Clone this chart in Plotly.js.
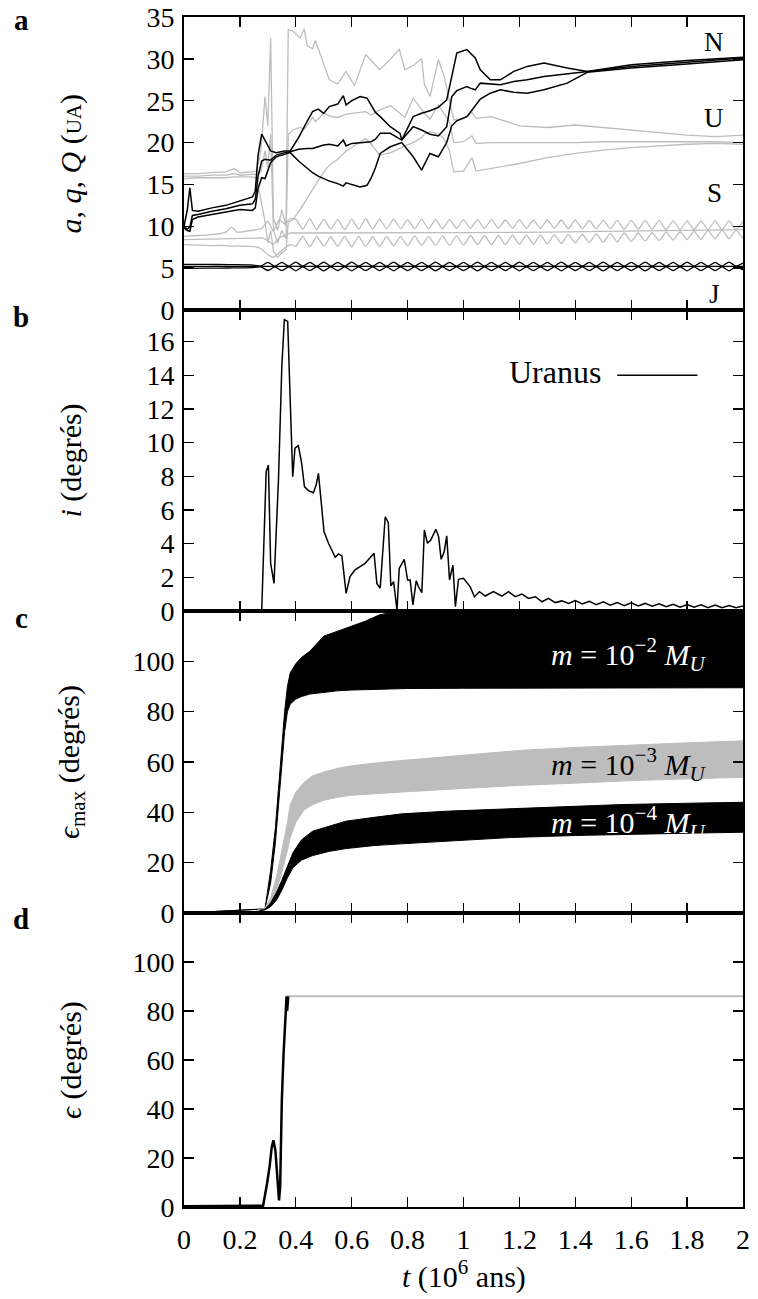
<!DOCTYPE html>
<html>
<head>
<meta charset="utf-8">
<script src="https://cdn.plot.ly/plotly-3.0.1.min.js"></script>
<style>html,body{margin:0;padding:0;background:#fff;}</style>
</head>
<body>
<div id="chart" style="width:758px;height:1299px;"></div>
<script>
// ---------------- Panel a : a, q, Q (UA) ----------------
// Neptune (black)
const tN = [0,0.012,0.021,0.03,0.05,0.1,0.15,0.2,0.245,0.255,0.265,0.278,0.29,0.31,0.33,0.36,0.38,0.41,0.44,0.46,0.48,0.5,0.52,0.55,0.57,0.58,0.6,0.63,0.655,0.67,0.685,0.702,0.738,0.773,0.779,0.82,0.85,0.88,0.91,0.94,0.958,0.976,1.012,1.024,1.042,1.06,1.096,1.132,1.18,1.228,1.288,1.371,1.443,1.6,1.8,2.0];
const NQ = [10.0,12.0,14.6,11.9,11.8,12.2,12.5,13.0,13.5,14.2,18.5,21.0,20.2,19.0,18.8,19.0,19.0,20.6,22.5,23.7,24.0,23.5,24.3,24.6,25.6,24.5,25.0,25.5,25.3,24.5,23.6,23.1,21.9,21.1,20.3,23.1,23.5,23.8,24.2,25.1,27.9,30.7,31.1,30.7,30.1,28.7,27.5,27.5,28.5,29.1,29.5,28.9,28.5,29.3,29.8,30.2];
const Na = [9.9,9.7,9.9,11.3,11.4,11.8,12.1,12.5,12.7,13.2,16.0,17.8,18.0,17.9,18.5,18.8,18.9,19.2,19.3,19.3,19.5,19.7,19.8,19.6,20.3,19.6,19.9,20.0,20.1,20.1,20.4,21.1,21.1,20.5,20.3,21.9,21.5,21.0,20.8,21.9,25.5,26.2,26.7,26.5,26.3,27.1,27.0,26.9,27.3,27.5,27.9,28.2,28.5,29.1,29.6,30.1];
const Nq = [9.8,9.5,9.4,10.8,11.1,11.4,11.7,12.0,11.9,12.2,14.5,15.8,15.7,17.6,18.3,18.6,18.8,17.8,16.9,16.4,16.0,15.7,15.4,15.1,14.8,15.2,15.0,14.7,14.9,15.8,17.0,18.7,19.5,19.9,20.0,18.3,16.7,18.7,18.3,20.0,22.0,22.6,23.1,23.6,24.4,25.2,25.9,26.3,26.0,25.9,26.3,27.1,28.4,28.9,29.4,29.9];

// Uranus (grey)
const tU = [0,0.05,0.1,0.15,0.18,0.2,0.24,0.26,0.275,0.29,0.3,0.31,0.32,0.335,0.35,0.365,0.373,0.39,0.415,0.43,0.44,0.46,0.47,0.5,0.52,0.55,0.58,0.61,0.65,0.67,0.7,0.74,0.77,0.79,0.82,0.85,0.86,0.88,0.91,0.93,0.95,0.965,1.0,1.03,1.045,1.1,1.2,1.3,1.4,1.5,1.6,1.7,1.8,1.9,2.0];
const UQ = [16.3,16.3,16.4,16.5,16.9,16.4,16.5,16.6,19.0,25.5,22.0,32.5,11.0,9.5,12.0,10.0,33.5,33.3,32.5,33.6,31.6,31.2,32.2,29.5,27.5,27.0,28.5,26.8,30.5,29.8,28.7,30.0,31.2,28.7,29.2,30.0,27.0,25.5,29.9,28.0,25.0,22.7,22.9,23.6,22.9,23.1,22.0,21.8,22.1,21.8,21.5,21.2,20.9,20.7,20.9];
const Ua = [16.0,16.0,16.1,16.1,16.3,16.1,16.2,16.2,16.5,19.0,17.0,21.0,9.5,8.0,9.5,8.5,21.0,21.5,21.8,21.6,22.0,23.0,22.5,23.5,23.2,23.0,23.4,23.5,23.7,23.3,23.9,24.4,23.5,23.0,25.3,24.0,23.5,22.8,24.5,23.5,22.5,20.0,20.1,20.8,19.9,20.0,20.0,20.0,20.0,20.1,20.1,20.1,20.1,20.1,20.0];
const Uq = [15.7,15.8,15.8,15.8,15.9,15.9,15.9,15.8,13.0,10.5,8.0,9.5,7.0,6.3,6.8,7.2,10.5,10.8,12.0,12.8,13.3,14.5,15.0,16.5,17.3,18.0,19.0,19.6,20.5,19.8,18.5,18.8,19.3,19.6,20.0,20.6,21.0,21.3,21.0,20.5,19.0,16.5,16.6,18.2,16.6,16.9,17.5,18.2,18.7,19.1,19.4,19.6,19.8,19.9,19.8];

// Saturn (grey)
const tSat = [0,0.05,0.1,0.15,0.17,0.19,0.22,0.26,0.28,0.3,0.32,0.34,0.36,0.38];
const SQ0 = [8.8,8.9,9.0,9.3,9.9,9.3,9.4,9.6,9.8,10.6,9.4,10.8,10.3,10.9];
const Sq0 = [7.8,7.75,7.7,7.7,7.6,7.65,7.6,7.55,7.2,6.6,6.3,6.8,7.4,7.8];
const tSa = [0,0.1,0.2,0.26,0.28,0.3,0.32,0.34,0.36,0.38,0.4,0.7,1.0,1.3,1.6,2.0];
const Sa  = [8.4,8.45,8.5,8.55,8.6,8.3,7.8,8.6,8.9,9.2,9.2,9.2,9.25,9.3,9.45,9.6];
const tOsc = [0.4,0.425,0.45,0.475,0.5,0.525,0.55,0.575,0.6,0.625,0.65,0.675,0.7,0.725,0.75,0.775,0.8,0.825,0.85,0.875,0.9,0.925,0.95,0.975,1.0,1.025,1.05,1.075,1.1,1.125,1.15,1.175,1.2,1.225,1.25,1.275,1.3,1.325,1.35,1.375,1.4,1.425,1.45,1.475,1.5,1.525,1.55,1.575,1.6,1.625,1.65,1.675,1.7,1.725,1.75,1.775,1.8,1.825,1.85,1.875,1.9,1.925,1.95,1.975,2.0];
const SQ1 = [10.85,9.65,10.9,9.6,10.85,9.65,10.8,9.6,10.85,9.65,10.9,9.65,10.85,9.7,10.85,9.7,10.8,9.7,10.85,9.7,10.8,9.7,10.8,9.75,10.8,9.75,10.8,9.75,10.8,9.75,10.75,9.75,10.8,9.75,10.75,9.75,10.75,9.75,10.75,9.7,10.75,9.7,10.7,9.7,10.7,9.7,10.7,9.65,10.7,9.65,10.7,9.65,10.7,9.6,10.65,9.6,10.65,9.6,10.65,9.6,10.65,9.6,10.65,9.6,10.6];
const Sq1 = [7.6,8.8,7.55,8.8,7.6,8.75,7.6,8.8,7.55,8.8,7.6,8.75,7.6,8.8,7.65,8.8,7.65,8.85,7.7,8.8,7.7,8.85,7.7,8.85,7.75,8.9,7.8,8.9,7.8,8.9,7.8,8.95,7.85,8.95,7.85,8.95,7.9,9.0,7.95,9.0,8.0,9.05,8.05,9.1,8.1,9.15,8.15,9.2,8.2,9.2,8.25,9.25,8.3,9.3,8.35,9.35,8.4,9.4,8.45,9.5,8.5,9.55,8.5,9.55,8.55];

// Jupiter (black)
const tJ0 = [0,0.08,0.16,0.24];
const JQ0 = [5.45,5.45,5.42,5.38];
const Jq0 = [4.98,5.0,5.02,5.06];
const tJ1 = [0.275,0.3,0.325,0.35,0.375,0.4,0.425,0.45,0.475,0.5,0.525,0.55,0.575,0.6,0.625,0.65,0.675,0.7,0.725,0.75,0.775,0.8,0.825,0.85,0.875,0.9,0.925,0.95,0.975,1.0,1.025,1.05,1.075,1.1,1.125,1.15,1.175,1.2,1.225,1.25,1.275,1.3,1.325,1.35,1.375,1.4,1.425,1.45,1.475,1.5,1.525,1.55,1.575,1.6,1.625,1.65,1.675,1.7,1.725,1.75,1.775,1.8,1.825,1.85,1.875,1.9,1.925,1.95,1.975,2.0];
const JQ1 = [5.25,5.68,5.25,5.7,5.25,5.72,5.24,5.7,5.25,5.72,5.25,5.7,5.24,5.72,5.25,5.7,5.25,5.7,5.25,5.72,5.24,5.7,5.25,5.7,5.25,5.72,5.25,5.7,5.24,5.7,5.25,5.72,5.25,5.7,5.25,5.7,5.24,5.72,5.25,5.7,5.25,5.7,5.25,5.72,5.24,5.7,5.25,5.7,5.25,5.72,5.25,5.7,5.24,5.7,5.25,5.72,5.25,5.7,5.25,5.7,5.24,5.72,5.25,5.7,5.25,5.7,5.25,5.72,5.24,5.6];
const Jq1 = [5.15,4.72,5.15,4.7,5.15,4.68,5.16,4.7,5.15,4.68,5.15,4.7,5.16,4.68,5.15,4.7,5.15,4.7,5.15,4.68,5.16,4.7,5.15,4.7,5.15,4.68,5.15,4.7,5.16,4.7,5.15,4.68,5.15,4.7,5.15,4.7,5.16,4.68,5.15,4.7,5.15,4.7,5.15,4.68,5.16,4.7,5.15,4.7,5.15,4.68,5.15,4.7,5.16,4.7,5.15,4.68,5.15,4.7,5.15,4.7,5.16,4.68,5.15,4.7,5.15,4.7,5.15,4.68,5.16,4.8];
const tJa = [0,0.5,1.0,1.5,2.0];
const Ja  = [5.22,5.2,5.2,5.2,5.2];

const planetLabels = ['N','U','S','J'];
const planetLabelY = [32.0,22.9,14.0,1.9];

// ---------------- Panel b : inclination of Uranus ----------------
const tI = [0,0.278,0.294,0.302,0.31,0.322,0.338,0.35,0.359,0.371,0.38,0.389,0.397,0.409,0.421,0.431,0.445,0.463,0.473,0.481,0.501,0.517,0.541,0.553,0.565,0.58,0.594,0.612,0.63,0.648,0.68,0.69,0.702,0.72,0.731,0.74,0.75,0.762,0.77,0.788,0.8,0.809,0.819,0.831,0.839,0.851,0.86,0.871,0.883,0.901,0.911,0.92,0.931,0.94,0.95,0.962,0.971,0.982,1.0,1.014,1.024,1.039,1.057,1.078,1.107,1.137,1.161,1.185,1.209,1.233,1.257,1.281,1.304,1.328,1.352,1.376,1.4,1.425,1.45,1.475,1.5,1.525,1.55,1.575,1.6,1.625,1.65,1.675,1.7,1.725,1.75,1.775,1.8,1.825,1.85,1.875,1.9,1.925,1.95,1.975,2.0];
const iU = [0,0,8.28,8.67,2.83,1.64,7.78,14.5,17.3,17.2,12.5,7.98,9.67,9.82,8.77,7.39,7.15,7.03,7.49,8.18,4.71,4.02,3.19,3.39,3.27,1.05,2.04,2.44,2.63,2.83,3.43,1.64,1.35,5.6,5.25,1.49,1.74,0.06,2.53,3.07,1.84,1.84,0.36,1.8,1.44,1.09,4.81,4.02,4.22,4.85,4.42,3.07,3.52,4.46,1.84,2.73,0.26,1.88,1.94,1.68,1.44,0.85,1.15,0.89,1.15,0.89,1.15,0.85,1.01,0.75,0.85,0.55,0.75,0.5,0.6,0.45,0.62,0.42,0.58,0.38,0.55,0.35,0.5,0.32,0.48,0.3,0.45,0.28,0.43,0.25,0.4,0.22,0.38,0.22,0.37,0.2,0.35,0.2,0.33,0.2,0.3];

// ---------------- Panel c : epsilon max bands ----------------
const tB2 = [0,0.1,0.2,0.27,0.29,0.31,0.327,0.34,0.35,0.36,0.37,0.38,0.4,0.42,0.45,0.5,0.55,0.6,0.65,0.7,0.8,1.0,1.5,2.0];
const lo2 = [0,0.5,1.0,1.5,1.8,12,28,45,58,72,80,83,85,86,87,87.8,88.3,88.6,88.8,89,89.2,89.3,89.4,89.5];
const hi2 = [0,0.5,1.0,1.5,1.8,17,34,52,65,80,90,95.4,99,101.5,104,110,112,114,116,118.5,120.5,120.5,120.5,120.5];
const tB3 = [0.26,0.29,0.31,0.33,0.345,0.36,0.37,0.38,0.4,0.43,0.46,0.5,0.55,0.6,0.7,0.8,1.0,1.2,1.4,1.6,1.8,2.0];
const lo3 = [1,1.5,4,9,14,20,25,30,36,41,43,44.8,46,46.8,47.6,48.2,49.5,50.7,51.6,52.6,53.3,53.9];
const hi3 = [1,2,6,14,22,30,36,43,48,52,54.5,56,57.5,58.5,59.8,60.8,62.8,64.6,65.8,66.8,67.6,68.4];
const tB4 = [0.27,0.29,0.31,0.33,0.35,0.37,0.39,0.42,0.46,0.52,0.58,0.68,0.78,0.95,1.17,1.4,1.57,1.8,2.0];
const lo4 = [1,1.2,2.5,5,9,14,18,21,22.8,24.5,25.6,26.8,27.5,28.7,30.0,30.8,31.3,31.7,32.1];
const hi4 = [1,1.5,4,8,13,18.5,24,29,32.5,34.5,36.5,38,39.4,40.5,41.4,42.5,43.1,43.6,44];
const bandLabels = ['10<sup>−2</sup>','10<sup>−3</sup>','10<sup>−4</sup>'];
const bandLabelY = [102.8,59.2,36.1];
const bandLabelColor = ['white','black','white'];

// ---------------- Panel d : epsilon ----------------
const tE = [0,0.1,0.2,0.283,0.297,0.306,0.314,0.32,0.327,0.335,0.34,0.344,0.35,0.356,0.36,0.364,0.367,0.369,0.371,0.373];
const eps = [0.3,0.4,0.3,0.5,9.5,16.3,24.5,27.2,23.1,12.2,2.7,8.2,43.5,62,72,83,86,80,84.5,86];
const tEg = [0.368,1.0,2.0];
const epsG = [86,86,86];

// ---------------- Axes tick labels ----------------
const xTicks = [0,0.2,0.4,0.6,0.8,1,1.2,1.4,1.6,1.8,2];
const xTickText = ['0','0.2','0.4','0.6','0.8','1','1.2','1.4','1.6','1.8','2'];
const yTicksA = [0,5,10,15,20,25,30,35];
const yTicksB = [0,2,4,6,8,10,12,14,16];
const yTicksCD = [0,20,40,60,80,100];

// ---------------- Build ----------------
const BLACK = '#000000', GREY = '#bdbdbd';
const FONT = 'Liberation Serif';
function ln(x, y, color, w, xa, ya, extra) {
  return Object.assign({x: x, y: y, mode: 'lines', type: 'scatter', hoverinfo: 'skip',
    line: {color: color, width: w}, xaxis: xa, yaxis: ya}, extra || {});
}
const spl = (c, s) => ({line: {color: c, width: 1.3, shape: 'spline', smoothing: s}});
const traces = [];
// panel a
traces.push(ln(tSat.concat(tOsc), SQ0.concat(SQ1), GREY, 1.3, 'x', 'y', spl(GREY, 0.5)));
traces.push(ln(tSat.concat(tOsc), Sq0.concat(Sq1), GREY, 1.3, 'x', 'y', spl(GREY, 0.5)));
traces.push(ln(tSa, Sa, GREY, 1.3, 'x', 'y'));
traces.push(ln(tU, UQ, GREY, 1.3, 'x', 'y'));
traces.push(ln(tU, Ua, GREY, 1.3, 'x', 'y'));
traces.push(ln(tU, Uq, GREY, 1.3, 'x', 'y'));
traces.push(ln(tJ0.concat(tJ1), JQ0.concat(JQ1), BLACK, 1.3, 'x', 'y', spl(BLACK, 0.7)));
traces.push(ln(tJ0.concat(tJ1), Jq0.concat(Jq1), BLACK, 1.3, 'x', 'y', spl(BLACK, 0.7)));
traces.push(ln(tJa, Ja, BLACK, 1.3, 'x', 'y'));
traces.push(ln(tN, NQ, BLACK, 1.5, 'x', 'y'));
traces.push(ln(tN, Na, BLACK, 1.5, 'x', 'y'));
traces.push(ln(tN, Nq, BLACK, 1.5, 'x', 'y'));
// panel b
traces.push(ln(tI, iU, BLACK, 1.5, 'x2', 'y2'));
// panel c
traces.push(ln(tB2, lo2, BLACK, 1, 'x3', 'y3'));
traces.push(ln(tB2, hi2, BLACK, 1, 'x3', 'y3', {fill: 'tonexty', fillcolor: BLACK}));
traces.push(ln(tB3, lo3, GREY, 1, 'x3', 'y3'));
traces.push(ln(tB3, hi3, GREY, 1, 'x3', 'y3', {fill: 'tonexty', fillcolor: GREY}));
traces.push(ln(tB4, lo4, BLACK, 1, 'x3', 'y3'));
traces.push(ln(tB4, hi4, BLACK, 1, 'x3', 'y3', {fill: 'tonexty', fillcolor: BLACK}));
// panel d
traces.push(ln(tEg, epsG, GREY, 2, 'x4', 'y4'));
traces.push(ln(tE, eps, BLACK, 2.5, 'x4', 'y4'));

function xax(anchor, showLabels) {
  return {anchor: anchor, domain: [0, 1], range: [0, 2], tickmode: 'array', tickvals: xTicks, ticktext: xTickText,
    showticklabels: showLabels, ticks: 'inside', ticklen: 10, tickwidth: 1.3, tickcolor: BLACK,
    showline: true, linewidth: 2, linecolor: BLACK, mirror: 'ticks', showgrid: false, zeroline: false,
    tickfont: {family: FONT, size: 28, color: BLACK}, ticklabelstandoff: 6};
}
function yax(anchor, dom, rng, tv) {
  return {anchor: anchor, domain: dom, range: rng, tickmode: 'array', tickvals: tv,
    ticks: 'inside', ticklen: 10, tickwidth: 1.3, tickcolor: BLACK,
    showline: true, linewidth: 2, linecolor: BLACK, mirror: 'ticks', showgrid: false, zeroline: false,
    tickfont: {family: FONT, size: 28, color: BLACK}, ticklabelstandoff: 2};
}
const dA = [0.75378, 1], dB = [0.50084, 0.75378], dC = [0.24706, 0.50084], dD = [0, 0.24706];

const annotations = [];
function txt(text, x, y, xref, yref, size, extra) {
  annotations.push(Object.assign({text: text, x: x, y: y, xref: xref, yref: yref, showarrow: false,
    xanchor: 'center', yanchor: 'middle',
    font: {family: FONT, size: size, color: BLACK}}, extra || {}));
}
// planet labels
planetLabels.forEach((p, k) => txt(p, 1.898, planetLabelY[k], 'x', 'y', 27));
// Uranus legend
txt('Uranus', 1.5, 14.2, 'x2', 'y2', 32, {xanchor: 'right'});
// band labels
bandLabels.forEach((b, k) => txt('<i>m</i> = ' + b + ' <i>M</i><sub><i>U</i></sub>', 1.592, bandLabelY[k], 'x3', 'y3', 30,
  {font: {family: FONT, size: 30, color: bandLabelColor[k]}}));
// y titles
const yTitleX = (71 - 184) / 559;
txt('<i>a</i>, <i>q</i>, <i>Q</i> (<span style="font-size:21px">UA</span>)', yTitleX, 0.8769, 'paper', 'paper', 30, {textangle: -90});
txt('<i>i</i> (degrés)', yTitleX, 0.6273, 'paper', 'paper', 30, {textangle: -90});
txt('<i>ϵ</i><sub>max</sub> (degrés)', yTitleX, 0.3739, 'paper', 'paper', 30, {textangle: -90});
txt('<i>ϵ</i> (degrés)', yTitleX, 0.1235, 'paper', 'paper', 30, {textangle: -90});
// x title
txt('<i>t</i> (10<sup>6</sup> ans)', 0.5, -0.0571, 'paper', 'paper', 30);
// panel letters
const letterX = (21 - 184) / 559;
[['a', 0.9975], ['b', 0.7480], ['c', 0.4950], ['d', 0.2420]].forEach(l =>
  txt('<b>' + l[0] + '</b>', letterX, l[1], 'paper', 'paper', 29));

const layout = {
  width: 758, height: 1299,
  margin: {l: 184, r: 15, t: 17, b: 92, pad: 0},
  paper_bgcolor: 'white', plot_bgcolor: 'white',
  showlegend: false,
  font: {family: FONT, size: 28, color: BLACK},
  xaxis: xax('y', false), xaxis2: xax('y2', false), xaxis3: xax('y3', false), xaxis4: xax('y4', true),
  yaxis: yax('x', dA, [0, 35], yTicksA),
  yaxis2: yax('x2', dB, [0, 17.88], yTicksB),
  yaxis3: yax('x3', dC, [0, 120], yTicksCD),
  yaxis4: yax('x4', dD, [0, 120], yTicksCD),
  annotations: annotations,
  shapes: [{type: 'line', xref: 'x2', yref: 'y2', x0: 1.55, x1: 1.837, y0: 14.0, y1: 14.0,
    line: {color: BLACK, width: 1.5}}]
};
Plotly.newPlot('chart', traces, layout, {staticPlot: true, displayModeBar: false});
</script>
</body>
</html>
